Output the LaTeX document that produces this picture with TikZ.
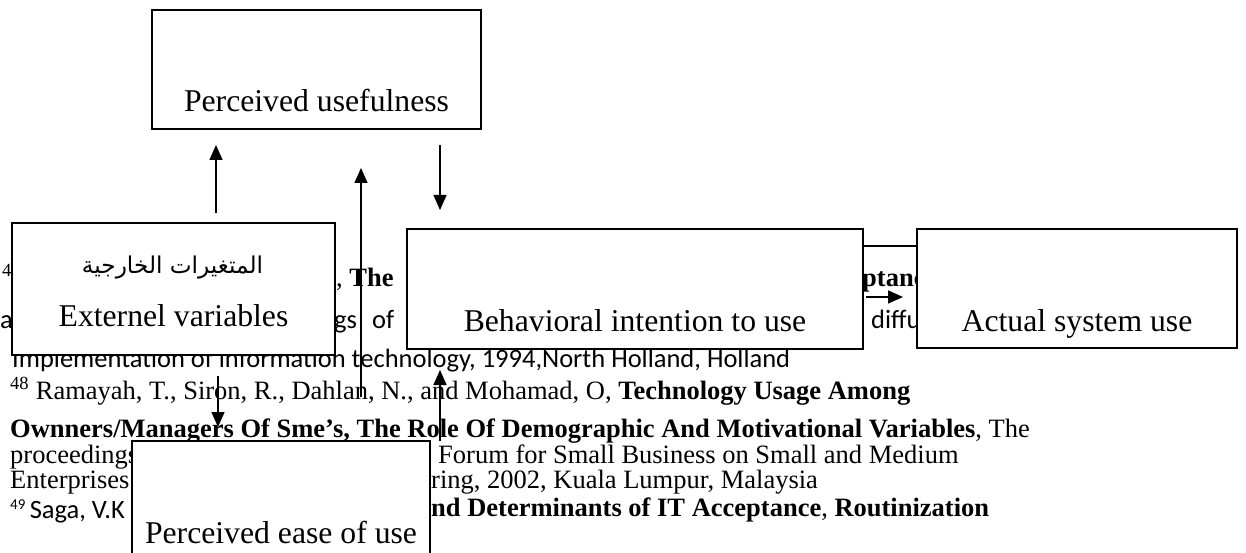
\documentclass[tikz,border=0pt]{standalone}
\usepackage{fontspec}
\setmainfont{Liberation Serif}
\newfontfamily\arabicfont[Script=Arabic]{DejaVu Sans}
\newfontfamily\twcen{Carlito}
\TeXXeTstate=1
\usetikzlibrary{arrows.meta}
\begin{document}
\begin{tikzpicture}[x=1pt,y=-1pt,
  box/.style={draw, line width=1.5pt, fill=white, inner sep=0pt, outer sep=0pt,
    anchor=north west, font=\fontsize{31.7}{38}\selectfont},
  ftxt/.style={anchor=base west, inner sep=0pt, font=\fontsize{26.5}{30}\selectfont},
  stxt/.style={anchor=base west, inner sep=0pt, font=\twcen\fontsize{26.5}{30}\selectfont},
  arr/.style={line width=1.5pt, -{Triangle[length=15pt,width=13pt]}},
  plain/.style={line width=1.5pt},
]
\clip (0,0) rectangle (1246,553);
\fill[white] (0,0) rectangle (1246,553);

% background footnote text
\node[ftxt] (ta0) at (2,286) {\textsuperscript{47}};
\node[ftxt] (ta1) at (336,286) {, \textbf{The}};
\node[ftxt] (ta2) at (862,286) {\textbf{ptanc}};
\node[stxt] (tb0) at (0,328) {a};
\node[stxt] (tb1) at (334,328) {gs};
\node[stxt] (tb2) at (372,328) {of};
\node[stxt] (tb3) at (871,328) {diffu};
\node[stxt] (tc) at (12,367) {Implementation of information technology, 1994,North Holland, Holland};
\node[ftxt] (td) at (10,399) {\textsuperscript{48} Ramayah, T., Siron, R., Dahlan, N., and Mohamad, O, \textbf{Technology Usage Among}};
\node[ftxt] (te) at (10,437) {\textbf{Ownners/Managers Of Sme’s, The Role Of Demographic And Motivational Variables}, The};
\node[ftxt] (tf1) at (10,463) {proceedings};
\node[ftxt] (tf2) at (438,463) {Forum for Small Business on Small and Medium};
\node[ftxt] (tg1) at (10,488) {Enterprises};
\node[ftxt] (tg2) at (431,488) {ring, 2002, Kuala Lumpur, Malaysia};
\node[ftxt] (th1) at (10,518) {{\twcen\fontsize{15}{18}\selectfont\raisebox{9pt}{49}}\,{\twcen Saga, V.K}};
\node[ftxt] (th2) at (431,516) {\textbf{nd Determinants of IT Acceptance}, \textbf{Routinization}};

% boxes
\node[box, minimum width=329pt, text height=102pt, text depth=17pt] (pu) at (152,10) {Perceived usefulness};
\node[box, minimum width=323pt, text height=103pt, text depth=29pt] (ext) at (12,223) {Externel variables};
\node[anchor=base, inner sep=0pt] (extar) at (172.5,273) {\resizebox{181pt}{!}{\arabicfont\beginR المتغيرات الخارجية\endR}};
\node[box, minimum width=456pt, text height=102pt, text depth=18pt] (beh) at (407,229) {Behavioral intention to use};
\node[box, minimum width=320pt, text height=102pt, text depth=17pt] (act) at (917,229) {Actual system use};
\node[box, minimum width=298pt, text height=102pt, text depth=28pt] (peou) at (132,441) {Perceived ease of use};

% connectors
\coordinate (a1s) at (216,213); \coordinate (a1e) at (216,145);
\coordinate (a2s) at (361,397); \coordinate (a2e) at (361,168);
\coordinate (a3s) at (440,145); \coordinate (a3e) at (440,210);
\coordinate (a4s) at (218,376); \coordinate (a4e) at (218,427);
\coordinate (a5s) at (440,441); \coordinate (a5e) at (440,370);
\coordinate (a6s) at (866,297); \coordinate (a6e) at (903,297);
\coordinate (lk) at (0,246);
\draw[arr] (a1s) -- (a1e);
\draw[arr] (a2s) -- (a2e);
\draw[arr] (a3s) -- (a3e);
\draw[arr] (a4s) -- (a4e);
\draw[arr] (a5s) -- (a5e);
\draw[arr] (a6s) -- (a6e);
\draw[plain] (beh.east |- lk) -- (act.west |- lk);
\end{tikzpicture}
\end{document}
